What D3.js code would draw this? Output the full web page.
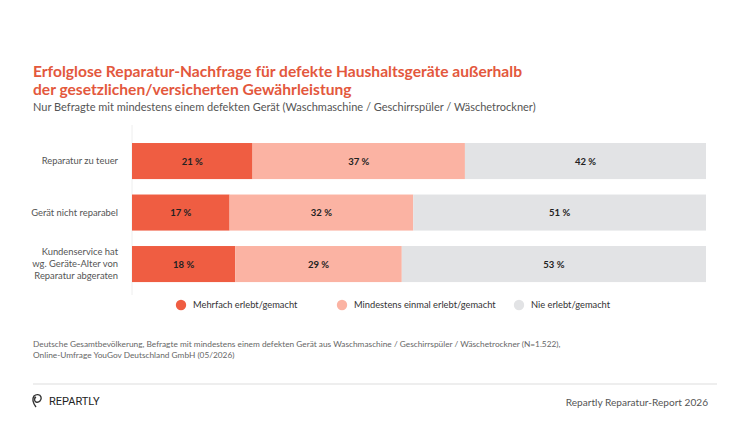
<!DOCTYPE html>
<html>
<head>
<meta charset="utf-8">
<script src="https://cdn.jsdelivr.net/npm/d3@7"></script>
<style>
  body { margin: 0; background: #fff; }
  svg { font-family: Lato, "Open Sans", sans-serif; }
</style>
</head>
<body>
<div class="container"></div>
<script>
const categories = [
    ["Reparatur zu teuer"],
    ["Gerät nicht reparabel"],
    ["Kundenservice hat", "wg. Geräte-Alter von", "Reparatur abgeraten"]
]
const seriesNames = ["Mehrfach erlebt/gemacht", "Mindestens einmal erlebt/gemacht", "Nie erlebt/gemacht"]
const mehrfach = [21, 17, 18]
const einmal = [37, 32, 29]
const nie = [42, 51, 53]
const colors = ["#ef5d42", "#fbb3a3", "#e2e3e5"]

const w = 750
const h = 422

const svg = d3.select(".container")
.append("svg")
.attr("width", w)
.attr("height", h)

svg.append("rect").attr("width", w).attr("height", h).attr("fill", "#fff")

// titles
const title = svg.append("text")
.attr("x", 33)
.attr("y", 77)
.attr("fill", "#e3583d")
.attr("font-size", "15.6px")
.attr("font-weight", "bold")
title.append("tspan").attr("x", 33).text("Erfolglose Reparatur-Nachfrage für defekte Haushaltsgeräte außerhalb")
title.append("tspan").attr("x", 33).attr("dy", 17.5).text("der gesetzlichen/versicherten Gewährleistung")

svg.append("text")
.attr("x", 33)
.attr("y", 111)
.attr("fill", "#555")
.attr("font-size", "11px")
.text("Nur Befragte mit mindestens einem defekten Gerät (Waschmaschine / Geschirrspüler / Wäschetrockner)")

// stacked data
const rows = categories.map((c, i) => ({ idx: i, values: [mehrfach[i], einmal[i], nie[i]] }))

const x = d3.scaleLinear().domain([0, 100]).range([132, 706])
const y = d3.scaleBand()
.domain(d3.range(categories.length))
.range([135.3, 289.8])
.paddingInner(0.3)
.paddingOuter(0.15)

// faint axis line
svg.append("line")
.attr("x1", x(0)).attr("x2", x(0))
.attr("y1", 125).attr("y2", 295)
.attr("stroke", "#eee")
.attr("stroke-width", 1)

const row = svg.selectAll(".row")
.data(rows)
.enter()
.append("g")
.attr("class", "row")
.attr("transform", d => `translate(0,${y(d.idx)})`)

const segs = row.selectAll(".seg")
.data(d => {
    let acc = 0
    return d.values.map((v, j) => {
        const s = { v: v, j: j, x0: acc, x1: acc + v }
        acc += v
        return s
    })
})
.enter()

segs.append("rect")
.attr("x", d => x(d.x0))
.attr("width", d => x(d.x1) - x(d.x0))
.attr("height", y.bandwidth())
.attr("fill", d => colors[d.j])

segs.append("text")
.attr("x", d => (x(d.x0) + x(d.x1)) / 2)
.attr("y", y.bandwidth() / 2 + 3.5)
.attr("text-anchor", "middle")
.attr("font-size", "9.5px")
.attr("font-weight", "bold")
.attr("fill", "#222")
.text(d => d.v + " %")

// category labels
row.append("text")
.attr("text-anchor", "end")
.attr("font-size", "9.4px")
.attr("fill", "#555")
.selectAll("tspan")
.data(d => categories[d.idx].map((t, k, arr) => ({ t: t, k: k, n: arr.length })))
.enter()
.append("tspan")
.attr("x", 118)
.attr("y", d => y.bandwidth() / 2 + 3.3 + (d.k - (d.n - 1) / 2) * 12)
.text(d => d.t)

// legend
const legendX = [181, 342, 519]
const legend = svg.selectAll(".legend-item")
.data(seriesNames)
.enter()
.append("g")
.attr("class", "legend-item")
.attr("transform", (d, i) => `translate(${legendX[i]},305)`)

legend.append("circle")
.attr("r", 5.2)
.attr("fill", (d, i) => colors[i])

legend.append("text")
.attr("x", 12)
.attr("y", 3.3)
.attr("font-size", "9.3px")
.attr("fill", "#333")
.text(d => d)

// footnote
const foot = svg.append("text")
.attr("x", 33)
.attr("y", 347)
.attr("font-size", "8.3px")
.attr("fill", "#666")
foot.append("tspan").attr("x", 33).text("Deutsche Gesamtbevölkerung, Befragte mit mindestens einem defekten Gerät aus Waschmaschine / Geschirrspüler / Wäschetrockner (N=1.522),")
foot.append("tspan").attr("x", 33).attr("dy", 11).text("Online-Umfrage YouGov Deutschland GmbH (05/2026)")

svg.append("line")
.attr("x1", 33).attr("x2", 717)
.attr("y1", 384).attr("y2", 384)
.attr("stroke", "#ddd")
.attr("stroke-width", 1)

// logo
const logo = svg.append("g").attr("transform", "translate(37,401)")
logo.append("path")
.attr("d", "M-1,6 C-4,2 -5,-2 -3,-5 C-1,-7 3,-7 4,-4 C5,-1 2,2 -1,1 C-3,0 -3,-3 -1,-4")
.attr("fill", "none")
.attr("stroke", "#333")
.attr("stroke-width", 1.4)
logo.append("text")
.attr("x", 12)
.attr("y", 4)
.attr("font-family", "Roboto, Lato, sans-serif")
.attr("font-size", "11px")
.attr("fill", "#222")
.text("REPARTLY")

svg.append("text")
.attr("x", 708)
.attr("y", 406)
.attr("text-anchor", "end")
.attr("font-size", "10.1px")
.attr("fill", "#555")
.text("Repartly Reparatur-Report 2026")
</script>
</body>
</html>
